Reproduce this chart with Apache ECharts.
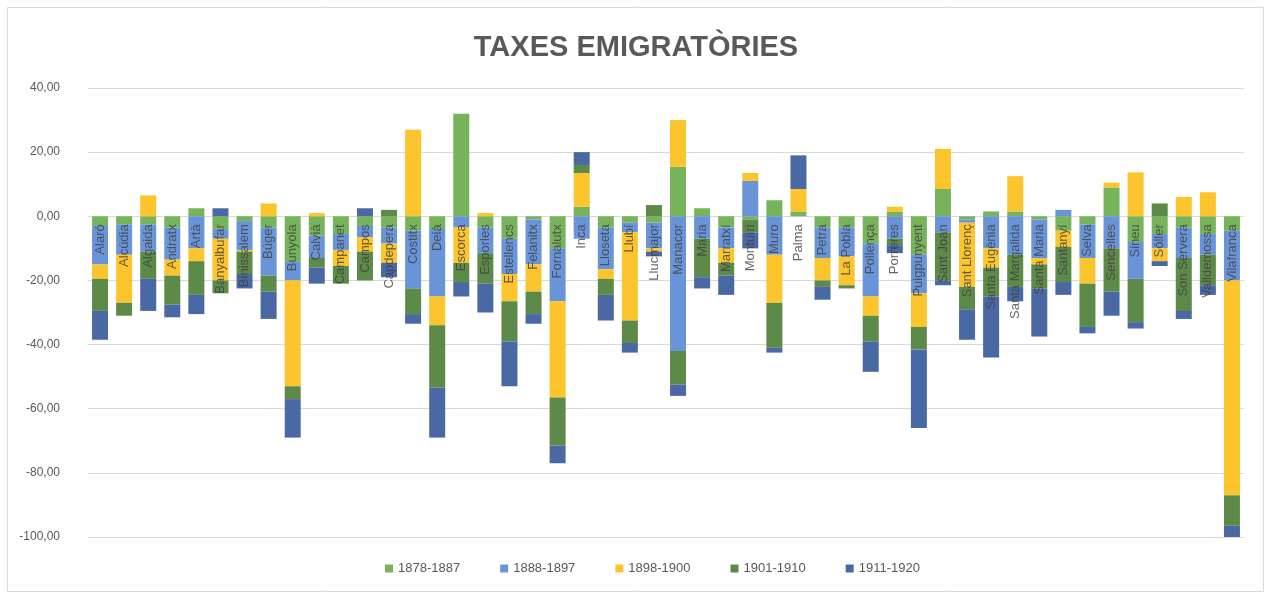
<!DOCTYPE html>
<html>
<head>
<meta charset="utf-8">
<title>Taxes emigratòries</title>
<script src="https://cdn.jsdelivr.net/npm/echarts@6/dist/echarts.min.js"></script>
<style>
  html, body { margin: 0; padding: 0; background: #fff; }
  #chart { width: 1272px; height: 599px; }
</style>
</head>
<body>
<div id="chart"></div>
<script>
  // municipis (eix de categories)
  var municipis = [
    'Alaró', 'Alcúdia', 'Algaida', 'Andratx', 'Artà', 'Banyalbufar', 'Binissalem', 'Búger',
    'Bunyola', 'Calvià', 'Campanet', 'Campos', 'Capdepera', 'Costitx', 'Deià', 'Escorca',
    'Esporles', 'Estellencs', 'Felanitx', 'Fornalutx', 'Inca', 'Lloseta', 'Llubí', 'Llucmajor',
    'Manacor', 'Maria', 'Marratxí', 'Montuïri', 'Muro', 'Palma', 'Petra', 'La Pobla',
    'Pollença', 'Porreres', 'Puigpunyent', 'Sant Joan', 'Sant Llorenç', 'Santa Eugènia', 'Santa Margalida', 'Santa Maria',
    'Santanyí', 'Selva', 'Sencelles', 'Sineu', 'Sóller', 'Son Servera', 'Valldemossa', 'Vilafranca'
  ];

  var periodes = ['1878-1887', '1888-1897', '1898-1900', '1901-1910', '1911-1920'];

  var taxes1878 = [
    -3, -2.5, -2.5, -3.5, 2.5, -4, -1.5, -3.5,
    -14, -6, -5.5, -3, -3.5, -4.5, -4, 32,
    -3.5, -7, -1, -10, 3, -3.5, -2, -2,
    15.5, 2.5, -3.5, -1, 5, 1.5, -3.5, -3.5,
    -8.5, 1.5, -12, 8.5, -1, 1.5, 1.5, -1,
    -4.5, -2.5, 9, -8, -5.5, -3.5, -5.5, -4.5
  ];
  var taxes1888 = [
    -12, -9.5, -8.5, -10, -10, -3, -9, -15,
    -6, -7, -5, -3.5, -5, -18, -21, -3.5,
    -8, -11, -14, -16.5, -7, -13, -3, -8,
    -42, -7, -6.5, 11, -12, 0, -9.5, -9,
    -16.5, -7, -12, -5, -1, -10, -12, -12,
    2, -10.5, -10, -11.5, -4.5, -9.5, -6.5, -15.5
  ];
  var taxes1898 = [
    -4.5, -15, 6.5, -5, -4, -13, -0.5, 4,
    -33, 1, -5, -4.5, -6, 27, -9, -11,
    1, -8.5, -8.5, -30, 10.5, -3, -27.5, -1,
    14.5, 0, -4.5, 2.5, -15, 7, -7, -9,
    -6, 1.5, -10.5, 12.5, -20, -6, 11, -2,
    -5, -8, 1.5, 13.7, -4, 6, 7.5, -67
  ];
  var taxes1901 = [
    -10, -4, -8.5, -9, -10.5, -4, -7, -5,
    -4, -3, -5.5, -9, 2, -8, -19.5, -6,
    -9.5, -12.5, -7, -15, 2.5, -5, -7, 3.5,
    -10.5, -12, -4, -4, -14, 0, -2, -1,
    -8, -2, -7, -15, -7, -9, -10, -7.5,
    -11, -13.5, -13.5, -13.5, 4, -16.5, -9.5, -9.5
  ];
  var taxes1911 = [
    -9, 0, -10, -4, -6, 2.5, -4.5, -8.5,
    -12, -5, 0, 2.5, -4.5, -3, -15.5, -4.5,
    -9, -14, -3, -5.5, 4, -8, -3, -1.5,
    -3.5, -3.5, -6, -5, -1.5, 10.5, -4, 0,
    -9.5, -2.5, -24.5, -1.5, -9.5, -19, -4.5, -15,
    -4, -2, -7.5, -2, -1.5, -2.5, -3, -3.5
  ];

  var colors = ['#77b35a', '#6995d8', '#fcc42d', '#5d8a48', '#4a68a3'];

  var chart = echarts.init(document.getElementById('chart'));

  var dades = [taxes1878, taxes1888, taxes1898, taxes1901, taxes1911];
  var seriesList = [];
  for (var i = 0; i < periodes.length; i++) {
    seriesList.push({
      name: periodes[i],
      type: 'bar',
      stack: 'total',
      barWidth: 16,
      itemStyle: { color: colors[i] },
      data: dades[i]
    });
  }

  // noms dels municipis just davall la línia del zero, com a l'Excel
  var etiquetes = [];
  for (var j = 0; j < municipis.length; j++) {
    etiquetes.push([municipis[j], 0]);
  }
  seriesList.push({
    name: 'etiquetes',
    type: 'scatter',
    symbolSize: 0,
    silent: true,
    z: 5,
    data: etiquetes,
    label: {
      show: true,
      position: 'bottom',
      distance: 8,
      rotate: 90,
      align: 'right',
      verticalAlign: 'middle',
      fontFamily: 'Liberation Sans',
      fontSize: 13,
      color: '#404040',
      formatter: function (p) {
        return p.name;
      }
    }
  });

  var options = {
    animation: false,
    title: {
      text: 'TAXES EMIGRATÒRIES',
      left: 'center',
      top: 28,
      textStyle: {
        fontFamily: 'Liberation Sans',
        fontSize: 29,
        fontWeight: 'bold',
        color: '#595959'
      }
    },
    graphic: [{
      type: 'rect',
      shape: { x: 7.5, y: 7.5, width: 1256, height: 584 },
      style: { fill: 'none', stroke: '#d9d9d9', lineWidth: 1 },
      silent: true
    }],
    grid: {
      left: 88,
      right: 28,
      top: 88,
      bottom: 62,
      outerBoundsMode: 'none'
    },
    legend: {
      data: periodes,
      left: 380,
      top: 557,
      itemWidth: 8,
      itemHeight: 8,
      itemGap: 40,
      icon: 'rect',
      textStyle: {
        fontFamily: 'Liberation Sans',
        fontSize: 13,
        color: '#595959'
      }
    },
    xAxis: {
      type: 'category',
      data: municipis,
      axisLine: { onZero: true, lineStyle: { color: '#d9d9d9' } },
      axisTick: { show: false },
      axisLabel: { show: false }
    },
    yAxis: {
      type: 'value',
      min: -100,
      max: 40,
      interval: 20,
      axisLine: { show: false },
      axisTick: { show: false },
      splitLine: { lineStyle: { color: '#d9d9d9' } },
      axisLabel: {
        margin: 28,
        fontFamily: 'Liberation Sans',
        fontSize: 12,
        color: '#595959',
        formatter: function (v) {
          return v.toFixed(2).replace('.', ',');
        }
      }
    },
    series: seriesList
  };

  chart.setOption(options);
</script>
</body>
</html>
